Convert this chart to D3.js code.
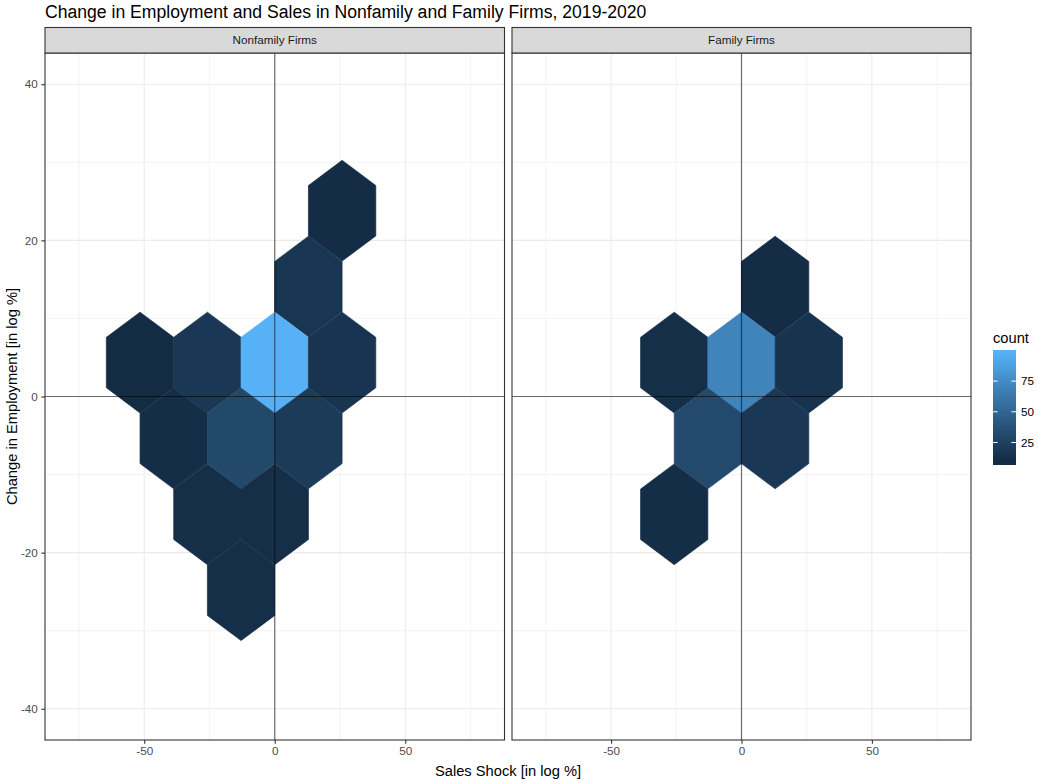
<!DOCTYPE html>
<html>
<head>
<meta charset="utf-8">
<script src="https://cdn.jsdelivr.net/npm/d3@7"></script>
<style>
body { margin: 0; background: #fff; }
svg { display: block; font-family: "Liberation Sans", Arial, sans-serif; }
</style>
</head>
<body>
<div id="chart"></div>
<script>
// chart data (hex centres)
const chart_title = "Change in Employment and Sales in Nonfamily and Family Firms, 2019-2020"
const facet_names = ["Nonfamily Firms", "Family Firms"]
const nonfamily_x = [25.8, 12.9, -51.6, -25.8, 0, 25.8, -38.7, -12.9, 12.9, -25.8, 0, -12.9]
const nonfamily_y = [23.8, 14.07, 4.35, 4.35, 4.35, 4.35, -5.37, -5.37, -5.37, -15.09, -15.09, -24.81]
const nonfamily_count = [10, 17, 9, 19, 98, 16, 11, 30, 21, 12, 12, 12]
const family_x = [12.9, -25.8, 0, 25.8, -12.9, 12.9, -25.8]
const family_y = [14.07, 4.35, 4.35, 4.35, -5.37, -5.37, -15.09]
const family_count = [10, 12, 70, 15, 32, 19, 11]
const x_ticks = [-50, 0, 50]
const y_ticks = [-40, -20, 0, 20, 40]
const legend_ticks = [25, 50, 75]

// layout consts
const width = 1038
const height = 780
const panel_top = 53
const panel_bottom = 740
const strip_top = 27.5
const panels = [{left: 45, right: 504.5}, {left: 512, right: 971}]
const x_domain = [-88, 88]
const y_domain = [-44, 44]
const hex_dx = 12.9
const hex_dy = 9.72 / Math.sqrt(3) / 2 * 1.15
const low_color = "#132B43"
const high_color = "#56B1F7"
const grid_color = "#EBEBEB"
const border_color = "#333333"
const plain_fmt = d => String(d)

// SVG utils
function setup_svg(){
    var svg = d3.select("#chart").append("svg")
        .attr("width", width)
        .attr("height", height)
    return svg
}

const all_counts = nonfamily_count.concat(family_count)
const count_extent = d3.extent(all_counts)
const color = d3.scaleLinear()
    .domain(count_extent)
    .range([low_color, high_color])
    .interpolate(d3.interpolateLab)

const y = d3.scaleLinear().domain(y_domain).range([panel_bottom, panel_top])

function minor_breaks(ticks, domain){
    var step = ticks[1] - ticks[0]
    var out = []
    for (var v = ticks[0] - step / 2; v <= domain[1]; v += step) {
        if (v >= domain[0]) out.push(v)
    }
    return out
}

function hex_points(cx, cy, x){
    var ox = [hex_dx, 0, -hex_dx, -hex_dx, 0, hex_dx]
    var oy = [hex_dy, 2 * hex_dy, hex_dy, -hex_dy, -2 * hex_dy, -hex_dy]
    return ox.map((d, i) => [x(cx + d), y(cy + oy[i])].join(",")).join(" ")
}

// panel funcs
function draw_panel(svg, p, name, xs, ys, counts){
    var x = d3.scaleLinear().domain(x_domain).range([p.left, p.right])
    var g = svg.append("g")

    g.append("rect")
        .attr("x", p.left).attr("y", panel_top)
        .attr("width", p.right - p.left).attr("height", panel_bottom - panel_top)
        .attr("fill", "#fff")

    // grid
    g.selectAll(".xminor").data(minor_breaks(x_ticks, x_domain)).join("line")
        .attr("x1", d => x(d)).attr("x2", d => x(d))
        .attr("y1", panel_top).attr("y2", panel_bottom)
        .attr("stroke", grid_color).attr("stroke-width", 0.6)
    g.selectAll(".yminor").data(minor_breaks(y_ticks, y_domain)).join("line")
        .attr("y1", d => y(d)).attr("y2", d => y(d))
        .attr("x1", p.left).attr("x2", p.right)
        .attr("stroke", grid_color).attr("stroke-width", 0.6)
    g.selectAll(".xmajor").data(x_ticks).join("line")
        .attr("x1", d => x(d)).attr("x2", d => x(d))
        .attr("y1", panel_top).attr("y2", panel_bottom)
        .attr("stroke", grid_color).attr("stroke-width", 1.1)
    g.selectAll(".ymajor").data(y_ticks).join("line")
        .attr("y1", d => y(d)).attr("y2", d => y(d))
        .attr("x1", p.left).attr("x2", p.right)
        .attr("stroke", grid_color).attr("stroke-width", 1.1)

    // hexes
    g.selectAll(".hex").data(counts).join("polygon")
        .attr("points", (d, i) => hex_points(xs[i], ys[i], x))
        .attr("fill", d => color(d))
        .attr("stroke", d => color(d))
        .attr("stroke-width", 0.7)

    // zero lines
    g.append("line")
        .attr("x1", p.left).attr("x2", p.right)
        .attr("y1", y(0)).attr("y2", y(0))
        .attr("stroke", "#000").attr("stroke-opacity", 0.55).attr("stroke-width", 1.2)
    g.append("line")
        .attr("x1", x(0)).attr("x2", x(0))
        .attr("y1", panel_top).attr("y2", panel_bottom)
        .attr("stroke", "#000").attr("stroke-opacity", 0.55).attr("stroke-width", 1.2)

    // border
    g.append("rect")
        .attr("x", p.left).attr("y", panel_top)
        .attr("width", p.right - p.left).attr("height", panel_bottom - panel_top)
        .attr("fill", "none").attr("stroke", border_color).attr("stroke-width", 1.1)

    // strip
    g.append("rect")
        .attr("x", p.left).attr("y", strip_top)
        .attr("width", p.right - p.left).attr("height", panel_top - strip_top)
        .attr("fill", "#D9D9D9").attr("stroke", border_color).attr("stroke-width", 1.1)
    g.append("text")
        .attr("x", (p.left + p.right) / 2).attr("y", 44)
        .attr("text-anchor", "middle").attr("font-size", 11.7).attr("fill", "#1A1A1A")
        .text(name)

    // x axis
    var xa = g.append("g")
        .attr("transform", "translate(0," + panel_bottom + ")")
        .call(d3.axisBottom(x).tickValues(x_ticks).tickFormat(plain_fmt).tickSize(3.7).tickPadding(3))
    style_axis(xa)
    xa.selectAll("text").attr("dy", "0.71em").attr("y", 7)
    return x
}

function style_axis(a){
    a.select(".domain").remove()
    a.selectAll("line").attr("stroke", border_color).attr("stroke-width", 1.1)
    a.selectAll("text").attr("fill", "#4D4D4D").attr("font-size", 11.7)
        .attr("font-family", "Liberation Sans, Arial, sans-serif")
}

// legend funcs
function draw_legend(svg){
    var bar_left = 993, bar_w = 23, bar_top = 350, bar_h = 115
    svg.append("text").attr("x", bar_left).attr("y", 343)
        .attr("font-size", 14.7).attr("fill", "#000").text("count")

    var grad = svg.append("defs").append("linearGradient")
        .attr("id", "count_grad").attr("x1", 0).attr("x2", 0).attr("y1", 1).attr("y2", 0)
    d3.range(20).forEach(i => {
        var v = count_extent[0] + (count_extent[1] - count_extent[0]) * i / 19
        grad.append("stop").attr("offset", (i + 0.5) / 20).attr("stop-color", color(v))
    })
    svg.append("rect").attr("x", bar_left).attr("y", bar_top)
        .attr("width", bar_w).attr("height", bar_h).attr("fill", "url(#count_grad)")

    var ls = d3.scaleLinear().domain(count_extent)
        .range([bar_top + bar_h * 0.975, bar_top + bar_h * 0.025])
    var tk = svg.append("g")
    tk.selectAll(".tl").data(legend_ticks).join("line")
        .attr("x1", bar_left).attr("x2", bar_left + bar_w / 5)
        .attr("y1", d => ls(d)).attr("y2", d => ls(d))
        .attr("stroke", "#fff").attr("stroke-width", 1)
    tk.selectAll(".tr").data(legend_ticks).join("line")
        .attr("x1", bar_left + bar_w * 4 / 5).attr("x2", bar_left + bar_w)
        .attr("y1", d => ls(d)).attr("y2", d => ls(d))
        .attr("stroke", "#fff").attr("stroke-width", 1)
    tk.selectAll("text").data(legend_ticks).join("text")
        .attr("x", bar_left + bar_w + 5).attr("y", d => ls(d)).attr("dy", "0.35em")
        .attr("font-size", 11.7).attr("fill", "#000").text(d => d)
}

var svg = setup_svg()
svg.append("rect").attr("width", width).attr("height", height).attr("fill", "#fff")

draw_panel(svg, panels[0], facet_names[0], nonfamily_x, nonfamily_y, nonfamily_count)
draw_panel(svg, panels[1], facet_names[1], family_x, family_y, family_count)

// y axis on the first panel
var ya = svg.append("g")
    .attr("transform", "translate(" + panels[0].left + ",0)")
    .call(d3.axisLeft(y).tickValues(y_ticks).tickFormat(plain_fmt).tickSize(3.7).tickPadding(3.5))
style_axis(ya)

// titles
svg.append("text").attr("x", 45).attr("y", 18)
    .attr("font-size", 17.6).attr("fill", "#000").text(chart_title)
svg.append("text").attr("x", (panels[0].left + panels[1].right) / 2).attr("y", 776)
    .attr("text-anchor", "middle").attr("font-size", 14.7).attr("fill", "#000")
    .text("Sales Shock [in log %]")
svg.append("text")
    .attr("transform", "translate(17," + (panel_top + panel_bottom) / 2 + ") rotate(-90)")
    .attr("text-anchor", "middle").attr("font-size", 14.7).attr("fill", "#000")
    .text("Change in Employment [in log %]")

draw_legend(svg)
</script>
</body>
</html>
